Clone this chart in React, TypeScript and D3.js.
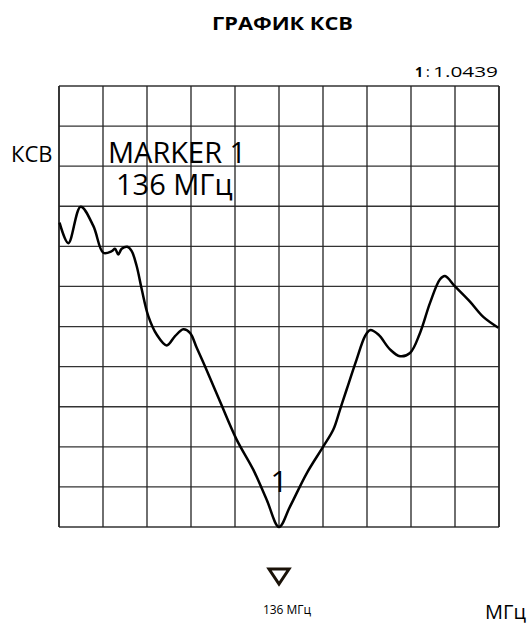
import React from "react";
import * as d3 from "d3";

const title = "ГРАФИК КСВ";
const yLabel = "КСВ";
const xUnit = "МГц";
const markerLines = ["MARKER 1", "136 МГц"];
const markerFreq = 136;
const markerIndexLabel = "1";
const markerValueLabel = "1.0439";
const markerFreqLabel = "136 МГц";

// frequency (MHz) and trace height in grid divisions (0 = bottom)
const freqMHz = [
  116.05, 116.85, 117.97, 119.12, 120.03, 120.79, 121.09, 121.39, 121.7, 122.21,
  122.61, 123.06, 123.52, 124.12, 124.88, 125.79, 126.55, 127.3, 127.91, 128.52,
  129.27, 130.64, 132.15, 133.66, 134.88, 136.0, 137.0, 138.52, 140.03, 140.94,
  141.55, 142.15, 143.06, 143.82, 144.27, 145.03, 146.09, 147.0, 147.91, 148.82,
  149.73, 150.64, 151.09, 152.0, 153.36, 154.57, 155.94,
];
const traceDiv = [
  7.59, 7.08, 7.99, 7.51, 6.84, 6.88, 6.94, 6.8, 6.94, 6.99,
  6.88, 6.51, 5.93, 5.26, 4.8, 4.53, 4.76, 4.93, 4.84, 4.47,
  4.01, 3.13, 2.18, 1.43, 0.68, 0.0, 0.51, 1.34, 2.01, 2.43,
  2.93, 3.43, 4.18, 4.76, 4.91, 4.8, 4.43, 4.26, 4.34, 4.84,
  5.59, 6.18, 6.26, 6.0, 5.62, 5.24, 4.97,
];

const xDomain = [116, 156];
const xStep = 4;
const yDivisions = 11;

export default function App() {
  const W = 528;
  const H = 625;
  const left = 59, right = 499, top = 86, bottom = 527;
  const x = d3.scaleLinear().domain(xDomain).range([left, right]);
  const y = d3.scaleLinear().domain([0, yDivisions]).range([bottom, top]);

  const xTicks = d3.range(xDomain[0], xDomain[1] + 0.001, xStep);
  const yTicks = d3.range(0, yDivisions + 1);

  const pts: [number, number][] = freqMHz.map((f, i) => [f, traceDiv[i]]);
  const line = d3
    .line<[number, number]>()
    .x((d) => x(d[0]))
    .y((d) => y(d[1]))
    .curve(d3.curveCatmullRom.alpha(0.5));

  const font = "'Open Sans', 'DejaVu Sans', sans-serif";
  const mx = x(markerFreq);

  return (
    <svg
      width={W}
      height={H}
      style={{ position: "absolute", left: 0, top: 0, background: "#fff" }}
      fontFamily={font}
    >
      <rect width={W} height={H} fill="#fff" />
      <text
        x={212}
        y={29.5}
        fontWeight="bold"
        fontSize={17}
        fill="#000"
        textLength={141}
        lengthAdjust="spacingAndGlyphs"
      >
        {title}
      </text>
      <text x={415} y={77} fontWeight="bold" fontSize={14} fill="#000">
        {markerIndexLabel}
      </text>
      <text x={426} y={77} fontSize={14} fill="#000">
        :
      </text>
      <text
        x={433}
        y={77}
        fontSize={14}
        fill="#000"
        textLength={65}
        lengthAdjust="spacingAndGlyphs"
      >
        {markerValueLabel}
      </text>

      {yTicks.map((t) => (
        <line
          key={"h" + t}
          x1={left}
          x2={right}
          y1={y(t)}
          y2={y(t)}
          stroke="#333"
          strokeWidth={t === 0 || t === yDivisions ? 1.6 : 1.3}
        />
      ))}
      {xTicks.map((t, i) => (
        <line
          key={"v" + t}
          x1={x(t)}
          x2={x(t)}
          y1={top}
          y2={bottom}
          stroke="#222"
          strokeWidth={i === 0 || i === xTicks.length - 1 ? 1.8 : 1.3}
        />
      ))}

      <text x={11} y={162} fontSize={22} fill="#000">
        {yLabel}
      </text>
      <text x={108} y={163} fontSize={29} fill="#000">
        {markerLines[0]}
      </text>
      <text x={116} y={195} fontSize={29} fill="#000">
        {markerLines[1]}
      </text>

      <path d={line(pts) || ""} fill="none" stroke="#000" strokeWidth={2.5} strokeLinejoin="round" />

      <text x={mx} y={492} textAnchor="middle" fontSize={30} fill="#000">
        {markerIndexLabel}
      </text>

      <path
        d={`M${mx - 10},${569} L${mx + 10},${569} L${mx},${584} Z`}
        fill="none"
        stroke="#1a1208"
        strokeWidth={3}
        strokeLinejoin="miter"
      />
      <text x={mx + 8} y={614} textAnchor="middle" fontSize={12} fill="#000">
        {markerFreqLabel}
      </text>
      <text x={485} y={619} fontSize={20} fill="#000">
        {xUnit}
      </text>
    </svg>
  );
}
